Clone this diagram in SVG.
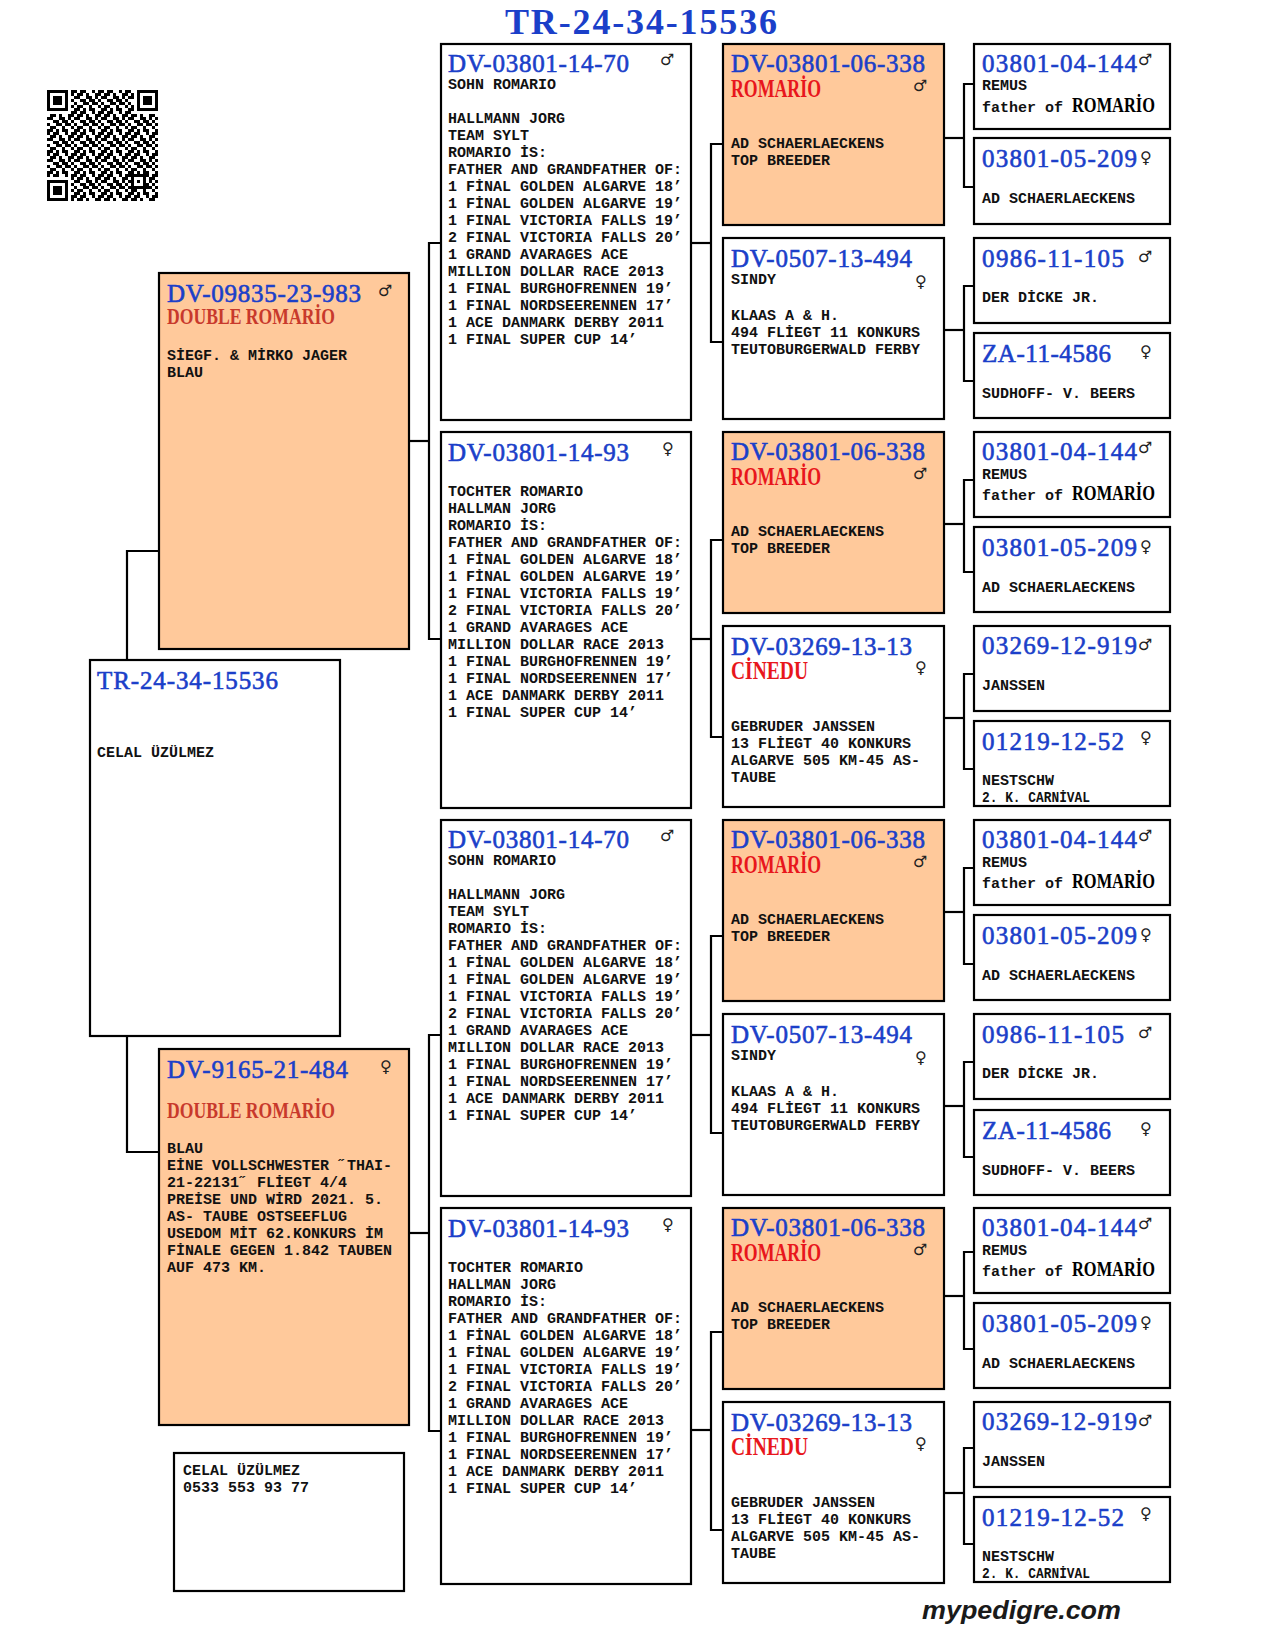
<svg xmlns="http://www.w3.org/2000/svg" width="1280" height="1626" viewBox="0 0 1280 1626">
<defs>
<style>
.box{stroke:#000;stroke-width:2.2;fill:#fff}
.or{fill:#FFC99B}
.id{font-family:"Liberation Serif",serif;font-size:25px;fill:#1b3fc9;stroke:#1b3fc9;stroke-width:0.6}
.rd{font-family:"Liberation Serif",serif;font-size:25px;font-weight:bold;fill:#e8161c}
.rd2{font-family:"Liberation Serif",serif;font-size:23px;font-weight:bold;fill:#c8392c}
.bk{font-family:"Liberation Serif",serif;font-size:22px;font-weight:bold;fill:#000}
.tx{font-family:"Liberation Mono",monospace;font-size:15px;font-weight:bold;fill:#111}
.sym{font-family:"DejaVu Sans",sans-serif;font-size:16px;fill:#222}
.conn path{fill:none;stroke:#000;stroke-width:2.2}
</style>
<pattern id="qrp" patternUnits="userSpaceOnUse" x="47" y="90" width="27" height="21">
<path fill="#000" d="M0 0h3v3h-3z M6 0h6v3h-6z M18 0h3v3h-3z M24 0h3v3h-3z M3 3h6v3h-6z M12 3h3v3h-3z M21 3h6v3h-6z M0 6h6v3h-6z M12 6h6v3h-6z M21 6h3v3h-3z M6 9h6v3h-6z M15 9h6v3h-6z M24 9h3v3h-3z M0 12h3v3h-3z M9 12h6v3h-6z M18 12h6v3h-6z M3 15h6v3h-6z M15 15h3v3h-3z M24 15h3v3h-3z M0 18h6v3h-6z M9 18h3v3h-3z M15 18h6v3h-6z"/>
</pattern>
</defs>
<rect x="0" y="0" width="1280" height="1626" fill="#fff"/>

<g id="qr">
<rect x="47" y="90" width="111" height="111" fill="url(#qrp)"/>
<rect x="47" y="90" width="24" height="24" fill="#fff"/>
<rect x="47" y="90" width="21" height="21" fill="#000"/><rect x="50" y="93" width="15" height="15" fill="#fff"/><rect x="53" y="96" width="9" height="9" fill="#000"/>
<rect x="134" y="90" width="24" height="24" fill="#fff"/>
<rect x="137" y="90" width="21" height="21" fill="#000"/><rect x="140" y="93" width="15" height="15" fill="#fff"/><rect x="143" y="96" width="9" height="9" fill="#000"/>
<rect x="47" y="177" width="24" height="24" fill="#fff"/>
<rect x="47" y="180" width="21" height="21" fill="#000"/><rect x="50" y="183" width="15" height="15" fill="#fff"/><rect x="53" y="186" width="9" height="9" fill="#000"/>
<rect x="131" y="174" width="15" height="15" fill="#000"/><rect x="134" y="177" width="9" height="9" fill="#fff"/><rect x="137" y="180" width="3" height="3" fill="#000"/>
</g>

<text id="title" x="505" y="34" font-family="Liberation Serif, serif" font-size="36" font-weight="bold" fill="#1b3fc9" textLength="272" lengthAdjust="spacing">TR-24-34-15536</text>

<g class="conn" id="connectors">
<path d="M127,659 V551 H158"/>
<path d="M127,1037 V1152 H158"/>
<path d="M410,441 H429"/><path d="M440,243 H429 V639 H440"/>
<path d="M410,1233 H429"/><path d="M440,1035 H429 V1431 H440"/>
<path d="M692,243 H711"/><path d="M722,144 H711 V342 H722"/>
<path d="M692,639 H711"/><path d="M722,540 H711 V737 H722"/>
<path d="M692,1035 H711"/><path d="M722,936 H711 V1133 H722"/>
<path d="M692,1430 H711"/><path d="M722,1332 H711 V1530 H722"/>
<path d="M945,138 H964"/><path d="M973,84 H964 V187 H973"/>
<path d="M945,330 H964"/><path d="M973,286 H964 V381 H973"/>
<path d="M945,524 H964"/><path d="M973,480 H964 V572 H973"/>
<path d="M945,718 H964"/><path d="M973,674 H964 V769 H973"/>
<path d="M945,912 H964"/><path d="M973,868 H964 V964 H973"/>
<path d="M945,1106 H964"/><path d="M973,1062 H964 V1157 H973"/>
<path d="M945,1296 H964"/><path d="M973,1252 H964 V1349 H973"/>
<path d="M945,1493 H964"/><path d="M973,1448 H964 V1544 H973"/>
</g>

<g id="subject">
<rect class="box" x="90" y="660" width="250" height="376"/>
<text class="id" x="97" y="689" textLength="181" lengthAdjust="spacing">TR-24-34-15536</text>
<text class="tx" x="97" y="757">CELAL ÜZÜLMEZ</text>
</g>

<g id="sire">
<rect class="box or" x="159" y="273" width="250" height="376"/>
<text class="id" x="167" y="302" textLength="194" lengthAdjust="spacing">DV-09835-23-983</text>
<text class="sym" x="378" y="296">♂</text>
<text class="rd2" x="167" y="324" textLength="168" lengthAdjust="spacingAndGlyphs">DOUBLE ROMARİO</text>
<text class="tx" x="167" y="360">SİEGF. &amp; MİRKO JAGER</text>
<text class="tx" x="167" y="377">BLAU</text>
</g>

<g id="dam">
<rect class="box or" x="159" y="1049" width="250" height="376"/>
<text class="id" x="167" y="1078" textLength="181" lengthAdjust="spacing">DV-9165-21-484</text>
<text class="sym" x="380" y="1072">♀</text>
<text class="rd2" x="167" y="1118" textLength="168" lengthAdjust="spacingAndGlyphs">DOUBLE ROMARİO</text>
<text class="tx" x="167" y="1153"><tspan x="167">BLAU</tspan><tspan x="167" dy="17">EİNE VOLLSCHWESTER ˝THAI-</tspan><tspan x="167" dy="17">21-22131˝ FLİEGT 4/4</tspan><tspan x="167" dy="17">PREİSE UND WİRD 2021. 5.</tspan><tspan x="167" dy="17">AS- TAUBE OSTSEEFLUG</tspan><tspan x="167" dy="17">USEDOM MİT 62.KONKURS İM</tspan><tspan x="167" dy="17">FİNALE GEGEN 1.842 TAUBEN</tspan><tspan x="167" dy="17">AUF 473 KM.</tspan></text>
</g>

<g id="contact">
<rect class="box" x="174" y="1453" width="230" height="138"/>
<text class="tx" x="183" y="1475">CELAL ÜZÜLMEZ</text>
<text class="tx" x="183" y="1492">0533 553 93 77</text>
</g>

<g id="g2-1">
<rect class="box" x="441" y="44" width="250" height="376"/>
<text class="id" x="448" y="72" textLength="181" lengthAdjust="spacing">DV-03801-14-70</text>
<text class="sym" x="660" y="65">♂</text>
<text class="tx" x="448" y="89">SOHN ROMARIO</text>
<text class="tx" x="448" y="123"><tspan x="448">HALLMANN JORG</tspan><tspan x="448" dy="17">TEAM SYLT</tspan><tspan x="448" dy="17">ROMARIO İS:</tspan><tspan x="448" dy="17">FATHER AND GRANDFATHER OF:</tspan><tspan x="448" dy="17">1 FİNAL GOLDEN ALGARVE 18’</tspan><tspan x="448" dy="17">1 FİNAL GOLDEN ALGARVE 19’</tspan><tspan x="448" dy="17">1 FINAL VICTORIA FALLS 19’</tspan><tspan x="448" dy="17">2 FINAL VICTORIA FALLS 20’</tspan><tspan x="448" dy="17">1 GRAND AVARAGES ACE</tspan><tspan x="448" dy="17">MILLION DOLLAR RACE 2013</tspan><tspan x="448" dy="17">1 FINAL BURGHOFRENNEN 19’</tspan><tspan x="448" dy="17">1 FINAL NORDSEERENNEN 17’</tspan><tspan x="448" dy="17">1 ACE DANMARK DERBY 2011</tspan><tspan x="448" dy="17">1 FINAL SUPER CUP 14’</tspan></text>
</g>

<g id="g2-2">
<rect class="box" x="441" y="432" width="250" height="376"/>
<text class="id" x="448" y="461" textLength="181" lengthAdjust="spacing">DV-03801-14-93</text>
<text class="sym" x="662" y="454">♀</text>
<text class="tx" x="448" y="496"><tspan x="448">TOCHTER ROMARIO</tspan><tspan x="448" dy="17">HALLMAN JORG</tspan><tspan x="448" dy="17">ROMARIO İS:</tspan><tspan x="448" dy="17">FATHER AND GRANDFATHER OF:</tspan><tspan x="448" dy="17">1 FİNAL GOLDEN ALGARVE 18’</tspan><tspan x="448" dy="17">1 FİNAL GOLDEN ALGARVE 19’</tspan><tspan x="448" dy="17">1 FINAL VICTORIA FALLS 19’</tspan><tspan x="448" dy="17">2 FINAL VICTORIA FALLS 20’</tspan><tspan x="448" dy="17">1 GRAND AVARAGES ACE</tspan><tspan x="448" dy="17">MILLION DOLLAR RACE 2013</tspan><tspan x="448" dy="17">1 FINAL BURGHOFRENNEN 19’</tspan><tspan x="448" dy="17">1 FINAL NORDSEERENNEN 17’</tspan><tspan x="448" dy="17">1 ACE DANMARK DERBY 2011</tspan><tspan x="448" dy="17">1 FINAL SUPER CUP 14’</tspan></text>
</g>

<g id="g2-3">
<rect class="box" x="441" y="820" width="250" height="376"/>
<text class="id" x="448" y="848" textLength="181" lengthAdjust="spacing">DV-03801-14-70</text>
<text class="sym" x="660" y="841">♂</text>
<text class="tx" x="448" y="865">SOHN ROMARIO</text>
<text class="tx" x="448" y="899"><tspan x="448">HALLMANN JORG</tspan><tspan x="448" dy="17">TEAM SYLT</tspan><tspan x="448" dy="17">ROMARIO İS:</tspan><tspan x="448" dy="17">FATHER AND GRANDFATHER OF:</tspan><tspan x="448" dy="17">1 FİNAL GOLDEN ALGARVE 18’</tspan><tspan x="448" dy="17">1 FİNAL GOLDEN ALGARVE 19’</tspan><tspan x="448" dy="17">1 FINAL VICTORIA FALLS 19’</tspan><tspan x="448" dy="17">2 FINAL VICTORIA FALLS 20’</tspan><tspan x="448" dy="17">1 GRAND AVARAGES ACE</tspan><tspan x="448" dy="17">MILLION DOLLAR RACE 2013</tspan><tspan x="448" dy="17">1 FINAL BURGHOFRENNEN 19’</tspan><tspan x="448" dy="17">1 FINAL NORDSEERENNEN 17’</tspan><tspan x="448" dy="17">1 ACE DANMARK DERBY 2011</tspan><tspan x="448" dy="17">1 FINAL SUPER CUP 14’</tspan></text>
</g>

<g id="g2-4">
<rect class="box" x="441" y="1208" width="250" height="376"/>
<text class="id" x="448" y="1237" textLength="181" lengthAdjust="spacing">DV-03801-14-93</text>
<text class="sym" x="662" y="1230">♀</text>
<text class="tx" x="448" y="1272"><tspan x="448">TOCHTER ROMARIO</tspan><tspan x="448" dy="17">HALLMAN JORG</tspan><tspan x="448" dy="17">ROMARIO İS:</tspan><tspan x="448" dy="17">FATHER AND GRANDFATHER OF:</tspan><tspan x="448" dy="17">1 FİNAL GOLDEN ALGARVE 18’</tspan><tspan x="448" dy="17">1 FİNAL GOLDEN ALGARVE 19’</tspan><tspan x="448" dy="17">1 FINAL VICTORIA FALLS 19’</tspan><tspan x="448" dy="17">2 FINAL VICTORIA FALLS 20’</tspan><tspan x="448" dy="17">1 GRAND AVARAGES ACE</tspan><tspan x="448" dy="17">MILLION DOLLAR RACE 2013</tspan><tspan x="448" dy="17">1 FINAL BURGHOFRENNEN 19’</tspan><tspan x="448" dy="17">1 FINAL NORDSEERENNEN 17’</tspan><tspan x="448" dy="17">1 ACE DANMARK DERBY 2011</tspan><tspan x="448" dy="17">1 FINAL SUPER CUP 14’</tspan></text>
</g>

<g id="g3-1">
<rect class="box or" x="723" y="44" width="221" height="181"/>
<text class="id" x="731" y="72" textLength="194" lengthAdjust="spacing">DV-03801-06-338</text>
<text class="rd" x="731" y="97" textLength="90" lengthAdjust="spacingAndGlyphs">ROMARİO</text>
<text class="sym" x="913" y="91">♂</text>
<text class="tx" x="731" y="148">AD SCHAERLAECKENS</text>
<text class="tx" x="731" y="165">TOP BREEDER</text>
</g>
<g id="g3-2">
<rect class="box" x="723" y="238" width="221" height="181"/>
<text class="id" x="731" y="267" textLength="181" lengthAdjust="spacing">DV-0507-13-494</text>
<text class="tx" x="731" y="284">SINDY</text>
<text class="sym" x="915" y="287">♀</text>
<text class="tx" x="731" y="320">KLAAS A &amp; H.</text>
<text class="tx" x="731" y="337">494 FLİEGT 11 KONKURS</text>
<text class="tx" x="731" y="354">TEUTOBURGERWALD FERBY</text>
</g>
<g id="g3-3">
<rect class="box or" x="723" y="432" width="221" height="181"/>
<text class="id" x="731" y="460" textLength="194" lengthAdjust="spacing">DV-03801-06-338</text>
<text class="rd" x="731" y="485" textLength="90" lengthAdjust="spacingAndGlyphs">ROMARİO</text>
<text class="sym" x="913" y="479">♂</text>
<text class="tx" x="731" y="536">AD SCHAERLAECKENS</text>
<text class="tx" x="731" y="553">TOP BREEDER</text>
</g>
<g id="g3-4">
<rect class="box" x="723" y="626" width="221" height="181"/>
<text class="id" x="731" y="655" textLength="181" lengthAdjust="spacing">DV-03269-13-13</text>
<text class="rd" x="731" y="679" textLength="77" lengthAdjust="spacingAndGlyphs">CİNEDU</text>
<text class="sym" x="915" y="673">♀</text>
<text class="tx" x="731" y="731">GEBRUDER JANSSEN</text>
<text class="tx" x="731" y="748">13 FLİEGT 40 KONKURS</text>
<text class="tx" x="731" y="765">ALGARVE 505 KM-45 AS-</text>
<text class="tx" x="731" y="782">TAUBE</text>
</g>
<g id="g3-5">
<rect class="box or" x="723" y="820" width="221" height="181"/>
<text class="id" x="731" y="848" textLength="194" lengthAdjust="spacing">DV-03801-06-338</text>
<text class="rd" x="731" y="873" textLength="90" lengthAdjust="spacingAndGlyphs">ROMARİO</text>
<text class="sym" x="913" y="867">♂</text>
<text class="tx" x="731" y="924">AD SCHAERLAECKENS</text>
<text class="tx" x="731" y="941">TOP BREEDER</text>
</g>
<g id="g3-6">
<rect class="box" x="723" y="1014" width="221" height="181"/>
<text class="id" x="731" y="1043" textLength="181" lengthAdjust="spacing">DV-0507-13-494</text>
<text class="tx" x="731" y="1060">SINDY</text>
<text class="sym" x="915" y="1063">♀</text>
<text class="tx" x="731" y="1096">KLAAS A &amp; H.</text>
<text class="tx" x="731" y="1113">494 FLİEGT 11 KONKURS</text>
<text class="tx" x="731" y="1130">TEUTOBURGERWALD FERBY</text>
</g>
<g id="g3-7">
<rect class="box or" x="723" y="1208" width="221" height="181"/>
<text class="id" x="731" y="1236" textLength="194" lengthAdjust="spacing">DV-03801-06-338</text>
<text class="rd" x="731" y="1261" textLength="90" lengthAdjust="spacingAndGlyphs">ROMARİO</text>
<text class="sym" x="913" y="1255">♂</text>
<text class="tx" x="731" y="1312">AD SCHAERLAECKENS</text>
<text class="tx" x="731" y="1329">TOP BREEDER</text>
</g>
<g id="g3-8">
<rect class="box" x="723" y="1402" width="221" height="181"/>
<text class="id" x="731" y="1431" textLength="181" lengthAdjust="spacing">DV-03269-13-13</text>
<text class="rd" x="731" y="1455" textLength="77" lengthAdjust="spacingAndGlyphs">CİNEDU</text>
<text class="sym" x="915" y="1449">♀</text>
<text class="tx" x="731" y="1507">GEBRUDER JANSSEN</text>
<text class="tx" x="731" y="1524">13 FLİEGT 40 KONKURS</text>
<text class="tx" x="731" y="1541">ALGARVE 505 KM-45 AS-</text>
<text class="tx" x="731" y="1558">TAUBE</text>
</g>

<g id="g4-1">
<rect class="box" x="974" y="44" width="196" height="85"/>
<text class="id" x="982" y="72" textLength="155" lengthAdjust="spacing">03801-04-144</text>
<text class="sym" x="1138" y="65">♂</text>
<text class="tx" x="982" y="90">REMUS</text>
<text class="tx" x="982" y="112">father of</text>
<text class="bk" x="1072" y="112" textLength="83" lengthAdjust="spacingAndGlyphs">ROMARİO</text>
</g>
<g id="g4-2">
<rect class="box" x="974" y="138" width="196" height="86"/>
<text class="id" x="982" y="167" textLength="155" lengthAdjust="spacing">03801-05-209</text>
<text class="sym" x="1140" y="163">♀</text>
<text class="tx" x="982" y="203">AD SCHAERLAECKENS</text>
</g>
<g id="g4-3">
<rect class="box" x="974" y="238" width="196" height="85"/>
<text class="id" x="982" y="267" textLength="142" lengthAdjust="spacing">0986-11-105</text>
<text class="sym" x="1138" y="262">♂</text>
<text class="tx" x="982" y="302">DER DİCKE JR.</text>
</g>
<g id="g4-4">
<rect class="box" x="974" y="333" width="196" height="85"/>
<text class="id" x="982" y="362" textLength="129" lengthAdjust="spacing">ZA-11-4586</text>
<text class="sym" x="1140" y="357">♀</text>
<text class="tx" x="982" y="398">SUDHOFF- V. BEERS</text>
</g>
<g id="g4-5">
<rect class="box" x="974" y="432" width="196" height="85"/>
<text class="id" x="982" y="460" textLength="155" lengthAdjust="spacing">03801-04-144</text>
<text class="sym" x="1138" y="453">♂</text>
<text class="tx" x="982" y="479">REMUS</text>
<text class="tx" x="982" y="500">father of</text>
<text class="bk" x="1072" y="500" textLength="83" lengthAdjust="spacingAndGlyphs">ROMARİO</text>
</g>
<g id="g4-6">
<rect class="box" x="974" y="527" width="196" height="85"/>
<text class="id" x="982" y="556" textLength="155" lengthAdjust="spacing">03801-05-209</text>
<text class="sym" x="1140" y="552">♀</text>
<text class="tx" x="982" y="592">AD SCHAERLAECKENS</text>
</g>
<g id="g4-7">
<rect class="box" x="974" y="626" width="196" height="85"/>
<text class="id" x="982" y="654" textLength="155" lengthAdjust="spacing">03269-12-919</text>
<text class="sym" x="1138" y="650">♂</text>
<text class="tx" x="982" y="690">JANSSEN</text>
</g>
<g id="g4-8">
<rect class="box" x="974" y="721" width="196" height="85"/>
<text class="id" x="982" y="750" textLength="142" lengthAdjust="spacing">01219-12-52</text>
<text class="sym" x="1140" y="743">♀</text>
<text class="tx" x="982" y="785">NESTSCHW</text>
<text class="tx" x="982" y="802" textLength="108" lengthAdjust="spacingAndGlyphs">2. K. CARNİVAL</text>
</g>
<g id="g4-9">
<rect class="box" x="974" y="820" width="196" height="85"/>
<text class="id" x="982" y="848" textLength="155" lengthAdjust="spacing">03801-04-144</text>
<text class="sym" x="1138" y="841">♂</text>
<text class="tx" x="982" y="867">REMUS</text>
<text class="tx" x="982" y="888">father of</text>
<text class="bk" x="1072" y="888" textLength="83" lengthAdjust="spacingAndGlyphs">ROMARİO</text>
</g>
<g id="g4-10">
<rect class="box" x="974" y="915" width="196" height="85"/>
<text class="id" x="982" y="944" textLength="155" lengthAdjust="spacing">03801-05-209</text>
<text class="sym" x="1140" y="940">♀</text>
<text class="tx" x="982" y="980">AD SCHAERLAECKENS</text>
</g>
<g id="g4-11">
<rect class="box" x="974" y="1014" width="196" height="85"/>
<text class="id" x="982" y="1043" textLength="142" lengthAdjust="spacing">0986-11-105</text>
<text class="sym" x="1138" y="1038">♂</text>
<text class="tx" x="982" y="1078">DER DİCKE JR.</text>
</g>
<g id="g4-12">
<rect class="box" x="974" y="1110" width="196" height="85"/>
<text class="id" x="982" y="1139" textLength="129" lengthAdjust="spacing">ZA-11-4586</text>
<text class="sym" x="1140" y="1134">♀</text>
<text class="tx" x="982" y="1175">SUDHOFF- V. BEERS</text>
</g>
<g id="g4-13">
<rect class="box" x="974" y="1208" width="196" height="85"/>
<text class="id" x="982" y="1236" textLength="155" lengthAdjust="spacing">03801-04-144</text>
<text class="sym" x="1138" y="1229">♂</text>
<text class="tx" x="982" y="1255">REMUS</text>
<text class="tx" x="982" y="1276">father of</text>
<text class="bk" x="1072" y="1276" textLength="83" lengthAdjust="spacingAndGlyphs">ROMARİO</text>
</g>
<g id="g4-14">
<rect class="box" x="974" y="1303" width="196" height="85"/>
<text class="id" x="982" y="1332" textLength="155" lengthAdjust="spacing">03801-05-209</text>
<text class="sym" x="1140" y="1328">♀</text>
<text class="tx" x="982" y="1368">AD SCHAERLAECKENS</text>
</g>
<g id="g4-15">
<rect class="box" x="974" y="1402" width="196" height="85"/>
<text class="id" x="982" y="1430" textLength="155" lengthAdjust="spacing">03269-12-919</text>
<text class="sym" x="1138" y="1426">♂</text>
<text class="tx" x="982" y="1466">JANSSEN</text>
</g>
<g id="g4-16">
<rect class="box" x="974" y="1497" width="196" height="85"/>
<text class="id" x="982" y="1526" textLength="142" lengthAdjust="spacing">01219-12-52</text>
<text class="sym" x="1140" y="1519">♀</text>
<text class="tx" x="982" y="1561">NESTSCHW</text>
<text class="tx" x="982" y="1578" textLength="108" lengthAdjust="spacingAndGlyphs">2. K. CARNİVAL</text>
</g>

<text id="footer" x="922" y="1619" font-family="Liberation Sans, sans-serif" font-size="26" font-weight="bold" font-style="italic" fill="#1a1a1a" textLength="199" lengthAdjust="spacingAndGlyphs">mypedigre.com</text>
</svg>
